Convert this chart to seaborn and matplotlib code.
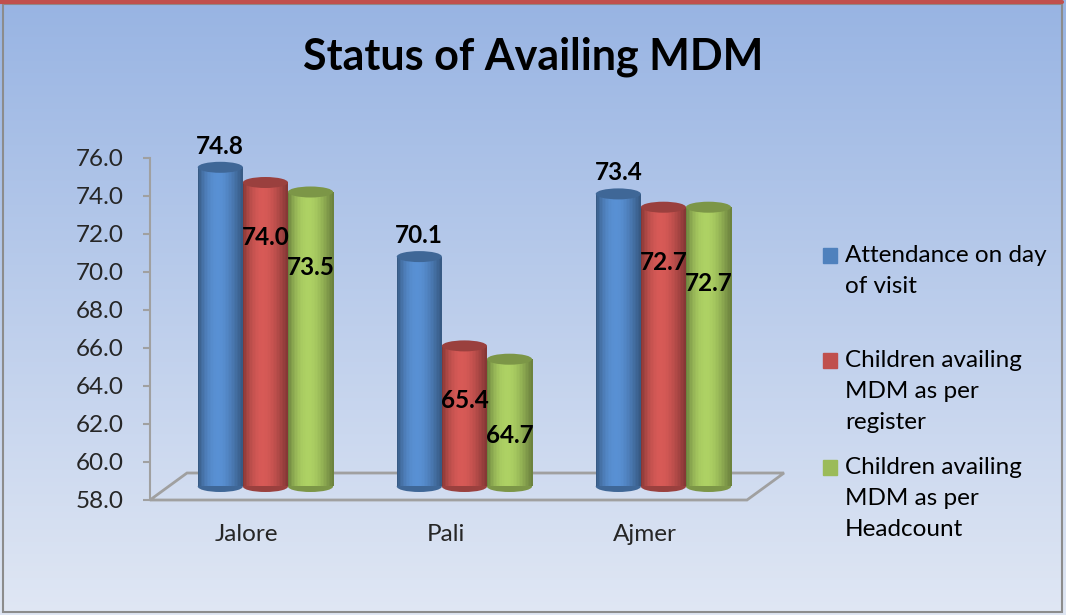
import numpy as np
import pandas as pd
import matplotlib
matplotlib.use("Agg")
import matplotlib.pyplot as plt
import matplotlib.transforms as mtransforms
from matplotlib.patches import Rectangle, Ellipse, Polygon
from matplotlib.lines import Line2D
from matplotlib.colors import to_rgb
import seaborn as sns

# data
districts = ["Jalore", "Pali", "Ajmer"]
series_names = ["Attendance on day\nof visit",
                "Children availing\nMDM as per\nregister",
                "Children availing\nMDM as per\nHeadcount"]
attendance = [74.8, 70.1, 73.4]
register = [74.0, 65.4, 72.7]
headcount = [73.5, 64.7, 72.7]
colors = ["#4f81bd", "#c0504d", "#9bbb59"]
yticks = np.arange(58, 77, 2)

df = pd.DataFrame({
    "district": districts * 3,
    "series": np.repeat(series_names, len(districts)),
    "value": attendance + register + headcount,
})

sns.set_theme(style="white")
plt.rcParams["font.family"] = ["Lato", "DejaVu Sans"]

W, H = 1066, 615
fig = plt.figure(figsize=(W / 100, H / 100), dpi=100)

# gradient background + frame
bg = fig.add_axes([0, 0, 1, 1], zorder=-1)
top_c = np.array(to_rgb("#98b4e3"))
bot_c = np.array(to_rgb("#e0e7f4"))
t = np.linspace(0, 1, 256)[:, None]
grad = top_c * (1 - t) + bot_c * t
bg.imshow(grad[:, None, :], aspect="auto", extent=[0, 1, 0, 1])
bg.set_axis_off()
fig.patches.append(Rectangle((3 / W, 3 / H), 1 - 7 / W, 1 - 7 / H, transform=fig.transFigure,
                             fill=False, ec="#8c8c8c", lw=1.5))
fig.lines.append(Line2D([0, 1062 / W], [1 - 1.5 / H, 1 - 1.5 / H], transform=fig.transFigure,
                        color="#c0504d", lw=3))

ax_l, ax_b, ax_w, ax_h = 150 / W, (H - 500) / H, 597 / W, 342 / H
ax = fig.add_axes([ax_l, ax_b, ax_w, ax_h])
ax.set_facecolor("none")

sns.barplot(data=df, x="district", y="value", hue="series", palette=colors,
            width=0.68, saturation=1, legend=False, ax=ax)

ax.set_ylim(58, 76)
ax.set_xlim(-0.487, 2.513)
ax.set_yticks(yticks)
ax.set_yticklabels([f"{v:.1f}" for v in yticks])
ax.set_xlabel("")
ax.set_ylabel("")
for s in ["top", "right", "bottom"]:
    ax.spines[s].set_visible(False)
ax.spines["left"].set_color("#a0a0a0")
ax.spines["left"].set_linewidth(1.5)
ax.tick_params(axis="y", left=True, length=5, width=1.5, color="#a0a0a0", pad=14, labelsize=17.5)
ax.tick_params(axis="x", length=0, pad=17, labelsize=17.5)

# 3d floor
dx, dy = 37, 27
floor = Polygon([[ax_l, ax_b], [ax_l + ax_w, ax_b],
                 [ax_l + ax_w + dx / W, ax_b + dy / H], [ax_l + dx / W, ax_b + dy / H]],
                closed=True, fill=False, ec="#a0a0a0", lw=2, transform=fig.transFigure,
                clip_on=False, zorder=1)
ax.add_patch(floor)

# cylinders sit at mid depth of the floor
shift = mtransforms.ScaledTranslation(dx / 2 / 100, dy / 2 / 100, fig.dpi_scale_trans)
trans = ax.transData + shift
ell_h = 11 / 19
n_strips = 30
tt = np.linspace(0, 1, n_strips)
shade = 0.70 + 0.42 * np.sin(np.pi * tt ** 0.85)
label_offsets = [1.1, -2.9, -4.0]

for s, cont in enumerate(ax.containers):
    base = np.array(to_rgb(colors[s]))
    for bar in cont:
        x0, w, v = bar.get_x(), bar.get_width(), bar.get_height()
        bar.set_visible(False)
        xc = x0 + w / 2
        z = 3 + s * 0.1
        ax.add_patch(Ellipse((xc, 58), w, ell_h, color=np.clip(base * 0.8, 0, 1),
                             transform=trans, clip_on=False, zorder=z, lw=0))
        for k in range(n_strips):
            ax.add_patch(Rectangle((x0 + k * w / n_strips, 58), w / n_strips * 1.3, v - 58,
                                   color=np.clip(base * shade[k], 0, 1), transform=trans,
                                   clip_on=False, zorder=z + 0.01, lw=0))
        ax.add_patch(Ellipse((xc, v), w, ell_h, color=np.clip(base * 0.8, 0, 1),
                             transform=trans, clip_on=False, zorder=z + 0.02, lw=0))
        ax.text(xc, v + label_offsets[s], f"{v:.1f}", transform=trans, ha="center", va="center",
                fontsize=17.5, fontweight="bold", color="black", zorder=10)

fig.text(0.5, 1 - 57 / H, "Status of Availing MDM", ha="center", va="center",
         fontsize=31, fontweight="bold", color="black")

# legend
leg_y = [245, 350, 457]
for c, lab, y in zip(colors, series_names, leg_y):
    fig.patches.append(Rectangle((823 / W, 1 - (y + 18) / H), 14 / W, 15 / H,
                                 transform=fig.transFigure, color=c))
    fig.text(845 / W, 1 - y / H, lab, ha="left", va="top", fontsize=17.5,
             linespacing=1.6, color="black")

fig.savefig("out.png", dpi=100)
